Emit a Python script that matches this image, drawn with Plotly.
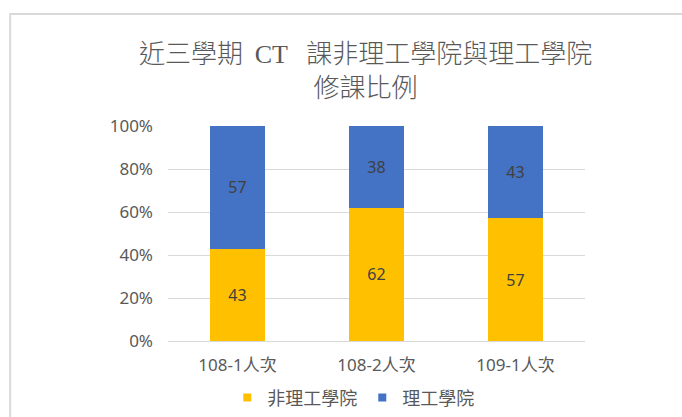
import plotly.graph_objects as go

categories = ["108-1人次", "108-2人次", "109-1人次"]
non_sci = [43, 62, 57]
sci = [57, 38, 43]
series_names = ["非理工學院", "理工學院"]
series_colors = ["#FFC000", "#4472C4"]
title_text = "近三學期\u2009 CT\u2002\u2009課非理工學院與理工學院<br>修課比例"

W, H = 682, 417
L, R, T, B = 167.5, 585, 125.7, 341


def px_x(p):
    return (p - L) / (R - L)


def px_y(p):
    return (B - p) / (B - T)


fig = go.Figure()
for name, vals, color in zip(series_names, [non_sci, sci], series_colors):
    fig.add_trace(go.Bar(
        x=categories,
        y=[v / 100 for v in vals],
        text=[str(v) for v in vals],
        texttemplate="%{text}",
        textposition="inside",
        insidetextanchor="middle",
        textfont=dict(color="#404040", size=16, family="Noto Sans"),
        marker=dict(color=color, line=dict(width=0)),
        name=name,
        showlegend=False,
        hoverinfo="skip",
    ))
    fig.add_trace(go.Scatter(
        x=[None], y=[None], mode="markers",
        marker=dict(symbol="square", size=8, color=color),
        name=name, showlegend=True,
    ))

fig.update_layout(
    width=W, height=H,
    margin=dict(l=L, r=W - R, t=T, b=H - B, pad=0, autoexpand=False),
    barmode="stack",
    bargap=0.605,
    plot_bgcolor="white",
    paper_bgcolor="white",
    font=dict(family="Noto Sans, Noto Sans CJK TC", color="#595959", size=17),
    showlegend=True,
    legend=dict(
        orientation="h",
        x=px_x(353), xanchor="center",
        y=px_y(398), yanchor="middle",
        font=dict(size=18, color="#595959", family="Noto Sans CJK TC"),
        itemwidth=30,
        traceorder="normal",
        bgcolor="rgba(0,0,0,0)",
    ),
    xaxis=dict(
        showgrid=False,
        showline=True, linecolor="#d9d9d9", linewidth=1,
        ticks="",
        tickfont=dict(size=17, color="#595959"),
        ticklabelstandoff=9,
    ),
    yaxis=dict(
        range=[0, 1],
        tickvals=[0, 0.2, 0.4, 0.6, 0.8, 1.0],
        tickformat=".0%",
        showgrid=True, gridcolor="#d9d9d9", gridwidth=1,
        zeroline=False,
        showline=False,
        ticks="",
        tickfont=dict(size=17, color="#595959"),
        ticklabelstandoff=14,
    ),
    annotations=[dict(
        text=title_text,
        xref="paper", yref="paper",
        x=px_x(365), y=px_y(71),
        xanchor="center", yanchor="middle",
        showarrow=False,
        font=dict(size=26, color="#595959", family="Liberation Serif, Noto Sans CJK TC", weight=300),
    )],
    shapes=[
        dict(type="line", xref="paper", yref="paper",
             x0=px_x(9), x1=px_x(700), y0=px_y(13.5), y1=px_y(13.5),
             line=dict(color="#d9d9d9", width=2), layer="above"),
        dict(type="line", xref="paper", yref="paper",
             x0=px_x(9.5), x1=px_x(9.5), y0=px_y(12.5), y1=px_y(430),
             line=dict(color="#d9d9d9", width=2), layer="above"),
    ],
)

fig.write_html(
    "out.html",
    config={"displayModeBar": False},
    post_script="document.body.style.margin='0';document.body.style.overflow='hidden';",
)
